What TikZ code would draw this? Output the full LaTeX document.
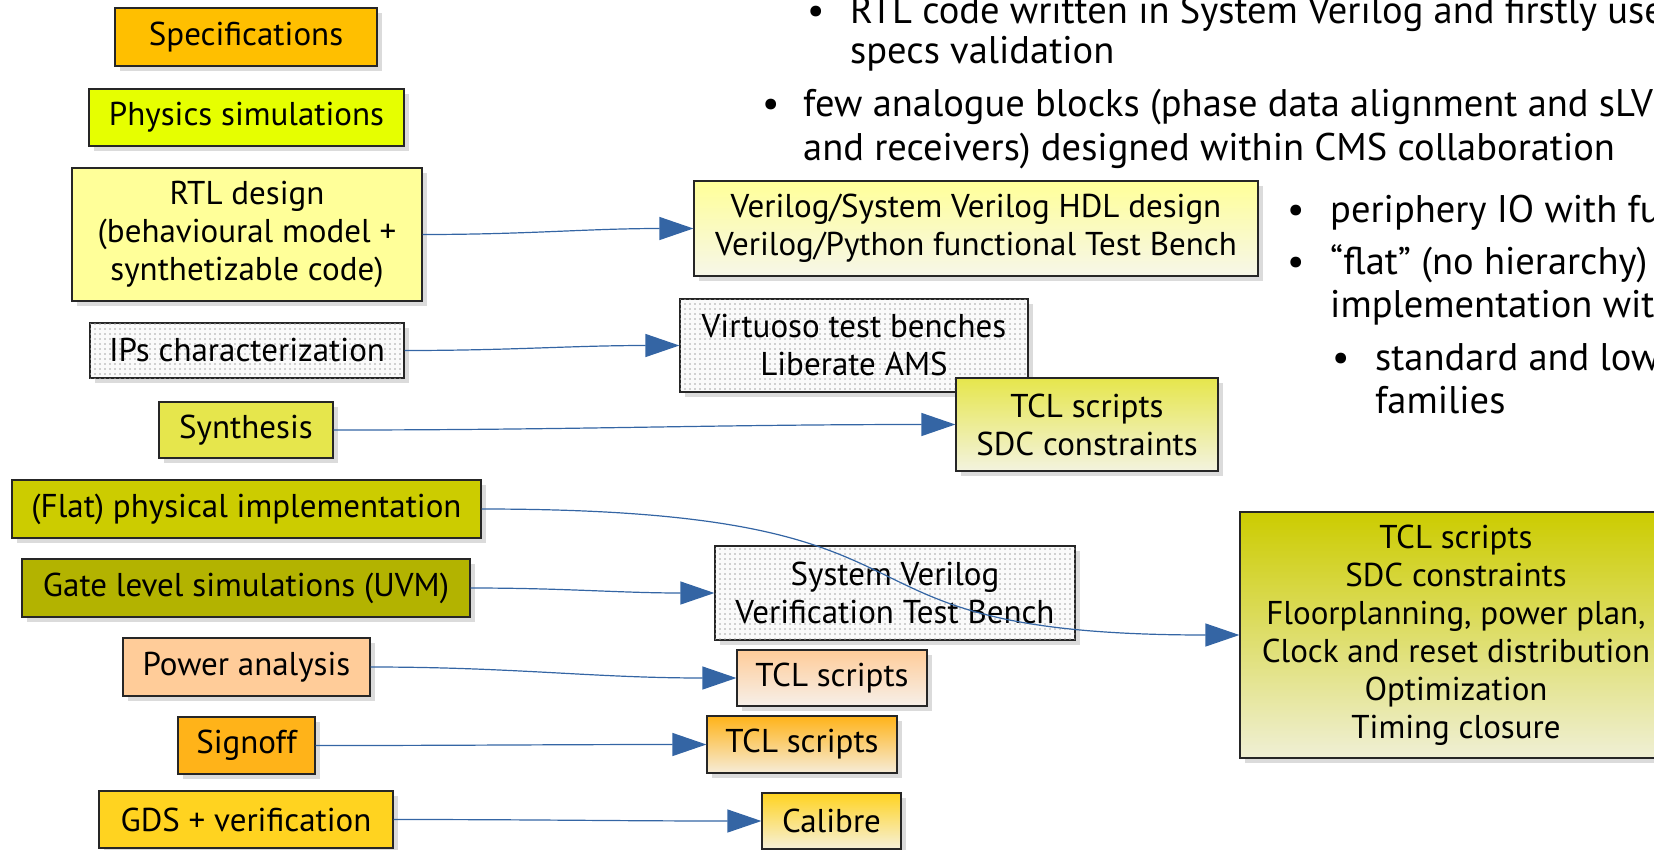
\documentclass[tikz,border=0pt]{standalone}
\usepackage{fontspec}
\setmainfont{PT Sans}
\usetikzlibrary{arrows.meta,shadows,patterns.meta,positioning}

\definecolor{specorange}{HTML}{FFBF00}
\definecolor{physgreen}{HTML}{E6FF00}
\definecolor{rtlyellow}{HTML}{FFFF99}
\definecolor{synthyellow}{HTML}{E6E64C}
\definecolor{flatolive}{HTML}{CCCC00}
\definecolor{gateolive}{HTML}{B3B300}
\definecolor{powerpeach}{HTML}{FFCC99}
\definecolor{signorange}{HTML}{FFB319}
\definecolor{gdsyellow}{HTML}{FFD320}
\definecolor{linkblue}{HTML}{3465A4}

\newcommand{\boxfont}{\fontsize{33}{38}\selectfont}
\newcommand{\notefont}{\fontsize{38.5}{45}\selectfont}

\begin{document}
\begin{tikzpicture}[
    x=1pt, y=-1pt,
    stage/.style={rectangle, draw=black!85, line width=1.2pt, inner sep=0pt, align=center, font=\boxfont,
        drop shadow={shadow xshift=5pt, shadow yshift=-5pt, fill=black!14, opacity=1}},
    tool/.style={stage, top color=#1, bottom color=#1!65!gray!20},
    dotbox/.style={stage, fill=gray!4, postaction={pattern={Dots[distance=5pt, radius=0.8pt]}, pattern color=gray!70}},
    link/.style={-{Triangle[length=34pt, width=23pt]}, draw=linkblue, line width=1.2pt},
    note/.style={anchor=base west, inner sep=0pt, font=\notefont}
]
\useasboundingbox (0,0) rectangle (1654,849);

% Design steps (left column)
\node[stage, fill=specorange, minimum width=262pt, minimum height=58pt] (spec) at (246,37) {Specifications};
\node[stage, fill=physgreen, minimum width=315pt, minimum height=57pt] (phys) at (246.5,117.5) {Physics simulations};
\node[stage, fill=rtlyellow, minimum width=350pt, minimum height=133pt] (rtl) at (247,234.5) {RTL design\\(behavioural model +\\synthetizable code)};
\node[dotbox, minimum width=314pt, minimum height=55pt] (ips) at (247,350.5) {IPs characterization};
\node[stage, fill=synthyellow, minimum width=174pt, minimum height=56pt] (synth) at (246,430) {Synthesis};
\node[stage, fill=flatolive, minimum width=469pt, minimum height=58pt] (flat) at (246.5,509) {(Flat) physical implementation};
\node[stage, fill=gateolive, minimum width=448pt, minimum height=58pt] (gate) at (246,588) {Gate level simulations (UVM)};
\node[stage, fill=powerpeach, minimum width=247pt, minimum height=58pt] (power) at (246.5,667) {Power analysis};
\node[stage, fill=signorange, minimum width=137pt, minimum height=57pt] (signoff) at (246.5,745.5) {Signoff};
\node[stage, fill=gdsyellow, minimum width=294pt, minimum height=57pt] (gds) at (246,819.5) {GDS + verification};

% Tools and scripts
\node[tool=rtlyellow, minimum width=564pt, minimum height=95pt] (hdl) at (976,228.5) {Verilog/System Verilog HDL design\\Verilog/Python functional Test Bench};
\node[dotbox, minimum width=348pt, minimum height=93pt] (virt) at (854,345.5) {Virtuoso test benches\\Liberate AMS};
\node[tool=synthyellow, minimum width=262pt, minimum height=93pt] (synth-tcl) at (1087,424.5) {TCL scripts\\SDC constraints};
\node[dotbox, minimum width=360pt, minimum height=94pt] (uvm-tb) at (895,593) {System Verilog\\Verification Test Bench};
\node[tool=powerpeach, minimum width=190pt, minimum height=56pt] (power-tcl) at (832,678) {TCL scripts};
\node[tool=signorange, minimum width=190pt, minimum height=57pt] (signoff-tcl) at (802,744.5) {TCL scripts};
\node[tool=gdsyellow, minimum width=139pt, minimum height=56pt] (calibre) at (831.5,821) {Calibre};
\node[tool=flatolive, minimum width=432pt, minimum height=246pt] (pnr) at (1456,635) {TCL scripts\\SDC constraints\\Floorplanning, power plan,\\Clock and reset distribution\\Optimization\\Timing closure};

% Connectors
\draw[link] (rtl) to[out=0, in=180] (hdl);
\draw[link] (ips) to[out=0, in=180] (virt);
\draw[link] (synth) to[out=0, in=180] (synth-tcl);
\draw[link] (flat) to[out=0, in=180, out looseness=1.7, in looseness=1.5] (pnr);
\draw[link] (gate) to[out=0, in=180] (uvm-tb);
\draw[link] (power) to[out=0, in=180] (power-tcl);
\draw[link] (signoff) to[out=0, in=180] (signoff-tcl);
\draw[link] (gds) to[out=0, in=180] (calibre);

% Bullet notes (top right)
\node[note] (rtl-dot) at (807,23) {•};
\node[note] (rtl-txt1) at (850,23) {RTL code written in System Verilog and firstly use};
\node[note] (rtl-txt2) at ([yshift=-40pt]rtl-txt1.base west) {specs validation};
\node[note] (ana-dot) at (762,116) {•};
\node[note] (ana-txt1) at (803,116) {few analogue blocks (phase data alignment and sLV};
\node[note] (ana-txt2) at ([yshift=-44pt]ana-txt1.base west) {and receivers) designed within CMS collaboration};
\node[note] (io-dot) at (1287,222) {•};
\node[note] (io-txt) at (1330,222) {periphery IO with fu};
\node[note] (flat-dot) at (1287,274) {•};
\node[note] (flat-txt1) at (1330,274) {“flat” (no hierarchy)};
\node[note] (flat-txt2) at ([yshift=-43pt]flat-txt1.base west) {implementation wit};
\node[note] (lib-dot) at (1332,370) {•};
\node[note] (lib-txt1) at (1375,370) {standard and low};
\node[note] (lib-txt2) at ([yshift=-43pt]lib-txt1.base west) {families};

\end{tikzpicture}
\end{document}
